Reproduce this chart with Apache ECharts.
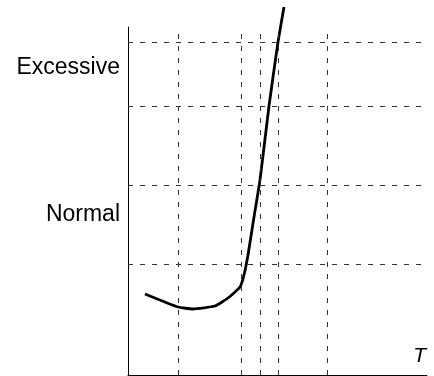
<!DOCTYPE html>
<html>
<head>
<meta charset="utf-8">
<script src="https://cdn.jsdelivr.net/npm/echarts@6/dist/echarts.min.js"></script>
<style>
  html, body { margin: 0; padding: 0; background: #fff; }
  #chart { width: 434px; height: 376px; }
</style>
</head>
<body>
<div id="chart"></div>
<script>
// response curve vs T (arbitrary units)
var curveT = [17, 50, 65, 87, 100, 112, 116, 120, 126, 132, 141, 150, 156];
var curveLevel = [81, 68, 66, 69, 77, 88, 100, 120, 158, 195, 269, 333, 368];

// dashed guide lines
var guideT = [50, 113, 132, 150, 199];
var guideLevel = [111, 190, 269, 333];

// level labels on the vertical axis
var levelLabelValues = [160, 307];
var levelLabelNames = ['Normal', 'Excessive'];

var chart = echarts.init(document.getElementById('chart'), null, { renderer: 'canvas' });

var points = curveT.map(function (t, i) { return [t, curveLevel[i]]; });

var dash = { color: '#333', width: 1, type: [5, 7] };
var guides = [];
guideT.forEach(function (v) { guides.push({ xAxis: v, lineStyle: dash }); });
guideLevel.forEach(function (v) { guides.push({ yAxis: v, lineStyle: dash }); });

var option = {
    animation: false,
    grid: { left: 128, right: 7, top: 27, bottom: 1 },
    xAxis: {
        type: 'value',
        min: 0,
        max: 299,
        name: 'T',
        nameLocation: 'end',
        nameGap: -1,
        nameTextStyle: {
            fontFamily: 'Liberation Sans, Arial, sans-serif',
            fontStyle: 'italic',
            fontSize: 21,
            color: '#000',
            align: 'right',
            verticalAlign: 'bottom',
            padding: [0, 0, 8, 0]
        },
        axisLine: { show: true, lineStyle: { color: '#000', width: 1 } },
        axisTick: { show: false },
        axisLabel: { show: false },
        splitLine: { show: false }
    },
    yAxis: {
        type: 'value',
        min: 0,
        max: 348,
        axisLine: { show: true, lineStyle: { color: '#000', width: 1 } },
        axisTick: { show: false },
        axisLabel: {
            show: true,
            customValues: levelLabelValues,
            margin: 8,
            fontFamily: 'Liberation Sans, Arial, sans-serif',
            fontSize: 23,
            color: '#000',
            formatter: function (v) {
                var i = levelLabelValues.indexOf(v);
                return i >= 0 ? levelLabelNames[i] : '';
            }
        },
        splitLine: { show: false }
    },
    series: [{
        type: 'line',
        data: points,
        clip: false,
        smooth: 0.15,
        symbol: 'none',
        lineStyle: { color: '#000', width: 2.8 },
        markLine: {
            silent: true,
            symbol: 'none',
            label: { show: false },
            data: guides
        }
    }]
};
chart.setOption(option);
</script>
</body>
</html>
